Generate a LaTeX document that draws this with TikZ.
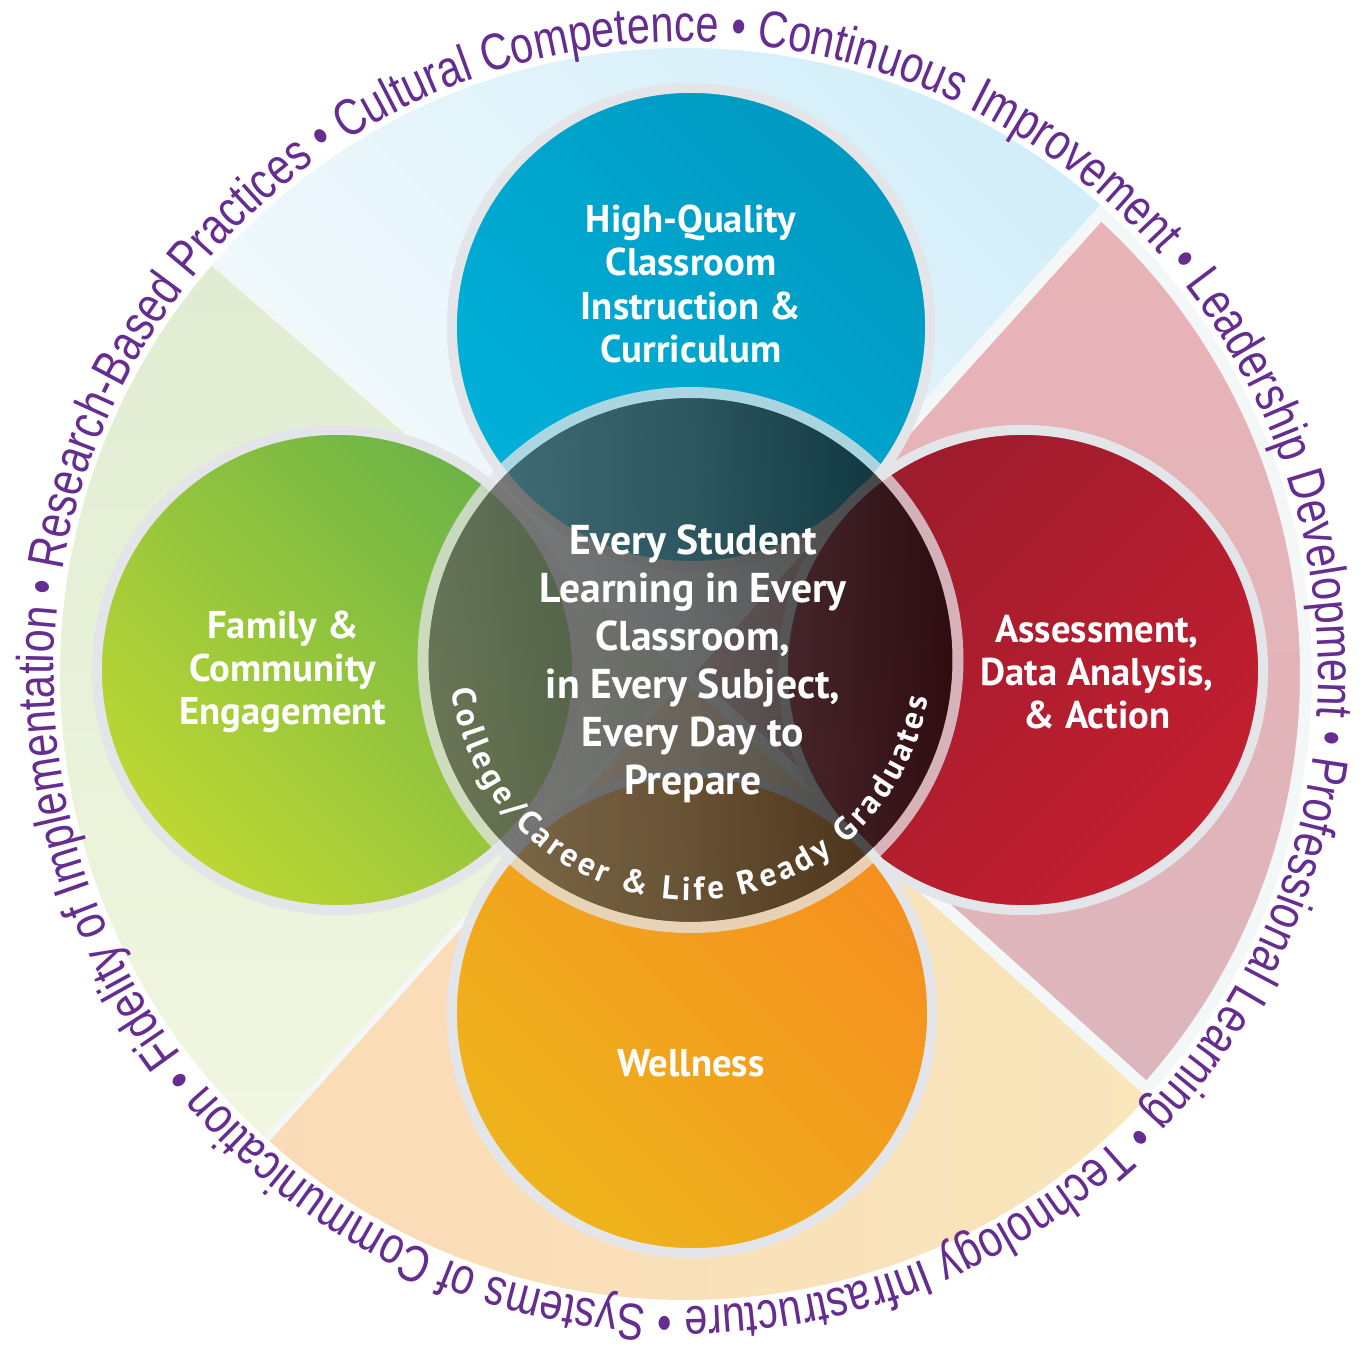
\documentclass[tikz,border=0pt]{standalone}
\usepackage{fontspec}
\setmainfont{PT Sans}
\font\ringprim="Liberation Sans" at 14.7pt
\font\arcprim="PT Sans/B" at 9.4pt
\usetikzlibrary{positioning}
\definecolor{ringtext}{HTML}{662D91}
\definecolor{rimgray}{HTML}{E4E5E8}
\definecolor{splitcol}{HTML}{F4F7F7}
\definecolor{skyA}{HTML}{F6FBFD}
\definecolor{skyB}{HTML}{D3EEF9}
\definecolor{leafA}{HTML}{E0EDD2}
\definecolor{leafB}{HTML}{F1F6E0}
\definecolor{peachA}{HTML}{FADBB7}
\definecolor{peachB}{HTML}{F9E6BB}
\definecolor{roseA}{HTML}{E9B3B7}
\definecolor{roseB}{HTML}{DCB5BC}
\definecolor{blueA}{HTML}{00B1D9}
\definecolor{blueB}{HTML}{0099C1}
\definecolor{greenA}{HTML}{BED733}
\definecolor{greenB}{HTML}{6BB347}
\definecolor{redA}{HTML}{9C1C2D}
\definecolor{redB}{HTML}{C41F30}
\definecolor{orangeA}{HTML}{EEB41C}
\definecolor{orangeB}{HTML}{F58F20}
\definecolor{shadeL}{HTML}{5E5E5E}
\definecolor{shadeM}{HTML}{3C3C3C}
\definecolor{shadeR}{HTML}{080808}
\tikzset{
  petal/.style={circle,draw=rimgray,line width=0.1cm,inner sep=0pt,minimum size=4.8cm},
  petaltext/.style={text=white,align=center,font=\bfseries\fontsize{11}{12.3}\selectfont},
  hubtext/.style={text=white,align=center,font=\bfseries\fontsize{11.85}{13.66}\selectfont},
  splitline/.style={draw=splitcol,line width=0.06cm},
  ringglyph/.style={anchor=base,inner sep=0pt,outer sep=0pt}
}
% one letter of a curved line
\newcommand\ringchar[6]{\node[ringglyph,rotate=#4,xscale=#6] at ([shift={(#3:#2pt)}]#1) {#5};}
% text round a circle: centre, radius (pt), start angle, +1 ccw / -1 cw, sweep, squeeze, format, text
\ExplSyntaxOn
\box_new:N \l__ring_box
\fp_new:N \l__ring_ang_fp
\fp_new:N \l__ring_gap_fp
\fp_new:N \l__ring_sum_fp
\fp_new:N \l__ring_wd_fp
\fp_new:N \l__ring_mid_fp
\int_new:N \l__ring_n_int
\NewDocumentCommand \ringtext { m m m m m m m m }
  {
    \fp_zero:N \l__ring_sum_fp
    \int_zero:N \l__ring_n_int
    \str_map_inline:nn {#8}
      {
        \hbox_set:Nn \l__ring_box { #7 ##1 }
        \fp_add:Nn \l__ring_sum_fp { \dim_to_fp:n { \box_wd:N \l__ring_box } * (#6) }
        \int_incr:N \l__ring_n_int
      }
    \fp_set:Nn \l__ring_gap_fp
      { ( (#5) * pi / 180 * (#2) - \l__ring_sum_fp ) / ( \int_use:N \l__ring_n_int - 1 ) }
    \fp_set:Nn \l__ring_ang_fp {#3}
    \str_map_inline:nn {#8}
      {
        \hbox_set:Nn \l__ring_box { #7 ##1 }
        \fp_set:Nn \l__ring_wd_fp { \dim_to_fp:n { \box_wd:N \l__ring_box } * (#6) }
        \fp_set:Nn \l__ring_mid_fp { \l__ring_ang_fp + (#4) * \l__ring_wd_fp / (#2) * 90 / pi }
        \str_if_eq:nnF {##1} {~}
          {
            \use:e
              {
                \exp_not:N \ringchar {#1} {#2}
                  { \fp_eval:n { \l__ring_mid_fp } }
                  { \fp_eval:n { \l__ring_mid_fp + (#4) * 90 } }
                  { \exp_not:n { #7 ##1 } }
                  {#6}
              }
          }
        \fp_set:Nn \l__ring_ang_fp
          { \l__ring_ang_fp + (#4) * ( \l__ring_wd_fp + \l__ring_gap_fp ) / (#2) * 180 / pi }
      }
  }
\ExplSyntaxOff
\begin{document}
\begin{tikzpicture}[x=0.01cm,y=0.01cm]
\useasboundingbox (-686,-674) rectangle (680,674);
\coordinate (sc) at (0,0);
\coordinate (hub) at (4.5,14);
% background sectors
\shade[left color=skyA,right color=skyB,shading angle=135] (sc) -- (48:626) arc[start angle=48,end angle=139,radius=626] -- cycle;
\shade[top color=leafA,bottom color=leafB] (sc) -- (139:626) arc[start angle=139,end angle=228,radius=626] -- cycle;
\shade[left color=peachA,right color=peachB] (sc) -- (228:626) arc[start angle=228,end angle=318,radius=626] -- cycle;
\shadedraw[top color=roseA,bottom color=roseB,draw=splitcol,line width=0.12cm] (sc) -- (318:620) arc[start angle=318,end angle=408,radius=620] -- cycle;
\foreach \a in {48,139,228,318}
  \draw[splitline] (sc) -- (\a:626);
% words round the edge
\ringtext{sc}{179.82}{122.5}{-1}{359}{0.8}{\color{ringtext}\ringprim}{Cultural Competence • Continuous Improvement • Leadership Development • Professional Learning • Technology Infrastructure • Systems of Communication • Fidelity of Implementation • Research-Based Practices •}
% the four circles
\node[petal,minimum size=4.78cm,left color=blueA,right color=blueB,shading angle=135] (quality) at (5,347) {};
\node[petal,left color=greenA,right color=greenB,shading angle=135] (family) at (-349,4) {};
\node[petal,left color=redA,right color=redB,shading angle=45] (assessment) at (337,4) {};
\node[petal,left color=orangeA,right color=orangeB,shading angle=135] (wellness) at (6,-339) {};
% dark centre, darker to the right
\shade[left color=shadeL,right color=shadeR,middle color=shadeM,fill opacity=0.76] (hub) circle[radius=262];
\draw[rimgray,opacity=0.75,line width=0.11cm] (hub) circle[radius=267.5];
\node[hubtext] (mission) at (7,10) {Every Student\\Learning in Every\\Classroom,\\in Every Subject,\\Every Day to\\Prepare};
\ringtext{hub}{68.3}{187}{1}{164}{1}{\color{white}\arcprim}{College/Career & Life Ready Graduates}
% labels
\node[petaltext] (qualitylabel) at (5,390) {High-Quality\\Classroom\\Instruction \&\\Curriculum};
\node[petaltext] (familylabel) at (-403,2) {Family \&\\Community\\Engagement};
\node[petaltext] (assessmentlabel) at (411,2) {Assessment,\\Data Analysis,\\\& Action};
\node[petaltext] (wellnesslabel) at (5,-389) {Wellness};
\end{tikzpicture}
\end{document}
